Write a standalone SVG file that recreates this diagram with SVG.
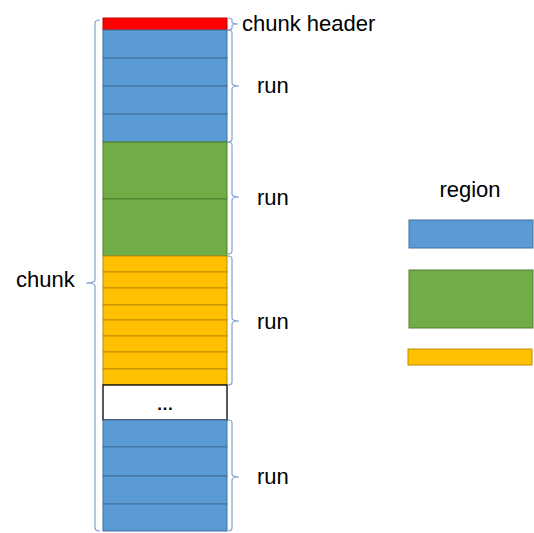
<svg xmlns="http://www.w3.org/2000/svg" width="534" height="533" viewBox="0 0 534 533">
<style>
.b{fill:#5B9BD5;stroke:#41719C;stroke-width:1}
.g{fill:#70AD47;stroke:#507E32;stroke-width:1}
.y{fill:#FFC000;stroke:#BC8C00;stroke-width:1}
.r{fill:#FF0000;stroke:#C00000;stroke-width:1}
.w{fill:#FFFFFF;stroke:#000000;stroke-width:1.3}
.br{fill:none;stroke:#7F9FD3;stroke-width:1.2}
text{font-family:"Liberation Sans",Arial,sans-serif;font-size:22px;fill:#000}
</style>
<rect width="534" height="533" fill="#fff"/>
<g id="chunk-column">
<g id="chunk-header"><rect class="r" x="103" y="18" width="124" height="12"/></g>
<g id="run1">
<rect class="b" x="103" y="30" width="124" height="28"/>
<rect class="b" x="103" y="58" width="124" height="28"/>
<rect class="b" x="103" y="86" width="124" height="28"/>
<rect class="b" x="103" y="114" width="124" height="28"/>
</g>
<g id="run2">
<rect class="g" x="103" y="142" width="124" height="57"/>
<rect class="g" x="103" y="199" width="124" height="57"/>
</g>
<g id="run3">
<rect class="y" x="103" y="256" width="124" height="16"/>
<rect class="y" x="103" y="272" width="124" height="16"/>
<rect class="y" x="103" y="288" width="124" height="17"/>
<rect class="y" x="103" y="305" width="124" height="15"/>
<rect class="y" x="103" y="320" width="124" height="16"/>
<rect class="y" x="103" y="336" width="124" height="16"/>
<rect class="y" x="103" y="352" width="124" height="17"/>
<rect class="y" x="103" y="369" width="124" height="16"/>
</g>
<g id="ellipsis">
<rect class="w" x="103" y="385" width="124" height="35"/>
<text x="165" y="410" text-anchor="middle" style="font-size:17px;font-weight:bold">…</text>
</g>
<g id="run4">
<rect class="b" x="103" y="420" width="124" height="27"/>
<rect class="b" x="103" y="447" width="124" height="29"/>
<rect class="b" x="103" y="476" width="124" height="28"/>
<rect class="b" x="103" y="504" width="124" height="27"/>
</g>
</g>
<g id="connectors">
<path class="br" d="M100,20 Q95,20 95,23 V280 Q95,283 86,283 Q95,283 95,286 V528 Q95,531 100,531"/>
<path class="br" d="M228,18 Q232,18 232,20 V22 Q232,24 238,24 Q232,24 232,26 V28 Q232,30 228,30"/>
<path class="br" d="M228,30 Q232,30 232,33 V83 Q232,86 239,86 Q232,86 232,89 V139 Q232,142 228,142"/>
<path class="br" d="M228,142 Q232,142 232,145 V194 Q232,197 239,197 Q232,197 232,200 V251 Q232,254 228,254"/>
<path class="br" d="M228,256 Q232,256 232,259 V318 Q232,321 239,321 Q232,321 232,324 V382 Q232,385 228,385"/>
<path class="br" d="M228,420 Q232,420 232,423 V474 Q232,477 239,477 Q232,477 232,480 V528 Q232,531 228,531"/>
</g>
<g id="labels">
<text x="242" y="31">chunk header</text>
<text x="257" y="93">run</text>
<text x="257" y="205">run</text>
<text x="257" y="329">run</text>
<text x="257" y="484">run</text>
<text x="16" y="287">chunk</text>
</g>
<g id="legend">
<text x="470" y="197" text-anchor="middle">region</text>
<g id="legend-blue"><rect class="b" x="409" y="220" width="124" height="28"/></g>
<g id="legend-green"><rect class="g" x="409" y="270" width="124" height="58"/></g>
<g id="legend-yellow"><rect class="y" x="408" y="349" width="124" height="16"/></g>
</g>
</svg>
